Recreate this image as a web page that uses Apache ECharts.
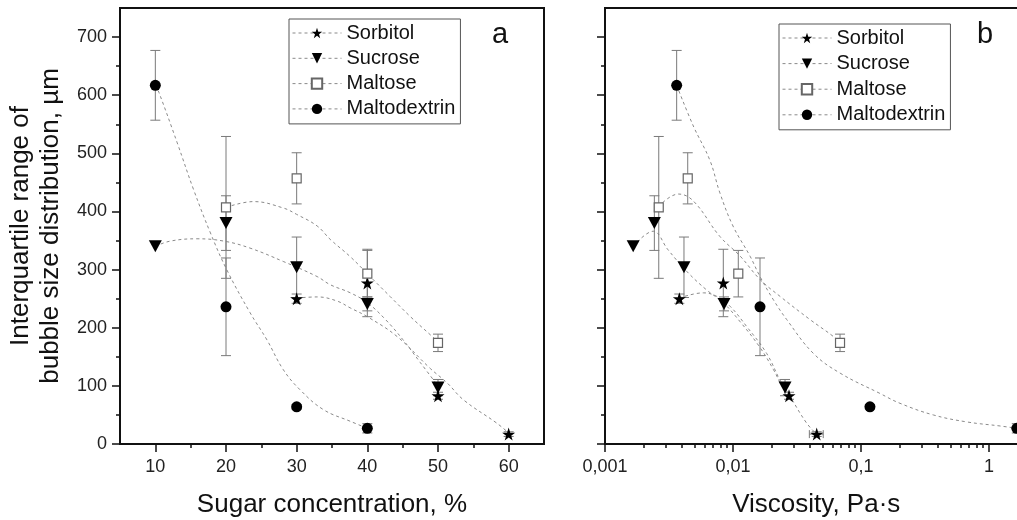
<!DOCTYPE html>
<html><head><meta charset="utf-8">
<script src="https://cdn.jsdelivr.net/npm/echarts@6/dist/echarts.min.js"></script>
<style>html,body{margin:0;padding:0;background:#fff}#c{width:1017px;height:520px}</style>
</head><body><div id="c"></div>
<script>
// ---------- data ----------
const seriesNames = ['Sorbitol', 'Sucrose', 'Maltose', 'Maltodextrin'];

const sorbitolConc = [30, 40, 50, 60];
const sorbitolVisc = [0.00381, 0.0084, 0.0274, 0.0451];
const sorbitolIQR = [250, 277, 83, 17];
const sorbitolErr = [8, 58, 6, 4];
const sorbitolViscErr = [0, 0, 0, 0.0056];

const sucroseConc = [10, 20, 30, 40, 50];
const sucroseVisc = [0.00166, 0.00243, 0.00414, 0.00851, 0.0255];
const sucroseIQR = [340, 380, 304, 241, 97];
const sucroseErr = [0, 47, 52, 12, 14];
const sucroseViscErr = [0, 0, 0, 0, 0];

const maltoseConc = [20, 30, 40, 50];
const maltoseVisc = [0.00263, 0.00443, 0.0110, 0.0686];
const maltoseIQR = [407, 457, 293, 174];
const maltoseErr = [122, 44, 40, 15];
const maltoseViscErr = [0.00013, 0.00022, 0.00055, 0.0034];

const maltodextrinConc = [10, 20, 30, 40];
const maltodextrinVisc = [0.00363, 0.01626, 0.1175, 1.65];
const maltodextrinIQR = [617, 236, 64, 27];
const maltodextrinErr = [60, 84, 4, 8];
const maltodextrinViscErr = [0, 0, 0, 0];

// fitted curves (panel a: concentration, panel b: viscosity)
const sorbitolFitA = [[30,251],[32.9,253],[35.7,246],[37.6,234],[40,219],[44.2,185],[48.9,130],[51.3,105],[53.6,76],[58.3,36],[60,19]];
const sucroseFitA = [[10,340],[12.1,349],[15.9,353],[19.7,349],[23.4,337],[28.1,314],[32.9,288],[34.75,274],[37.6,260],[40,243],[42.5,215],[45,180],[47.5,140],[50,100]];
const maltoseFitA = [[20,407],[23.9,417],[28.1,406],[30,395],[32.9,375],[34.75,352],[37.6,322],[40.4,288],[43.2,254],[46.1,219],[48.9,188],[50,176]];
const maltodextrinFitA = [[10,617],[10.5,605],[13.1,518],[15.4,438],[17.8,363],[20.1,300],[23.4,226],[25.8,179],[28.1,128],[30.5,93],[33.8,59],[37.6,39],[40,27]];

const sorbitolFitB = [[0.00381,251],[0.00586,260],[0.00746,254],[0.00948,237],[0.0128,202],[0.0183,156],[0.0233,110],[0.0279,82],[0.0376,36],[0.0451,17]];
const sucroseFitB = [[0.00166,340],[0.00238,366],[0.00311,334],[0.00435,297],[0.00622,265],[0.0084,243],[0.0114,210],[0.01626,166],[0.0207,128],[0.0247,96],[0.0255,95]];
const maltoseFitB = [[0.00261,408],[0.00374,430],[0.0049,418],[0.0079,357],[0.0114,323],[0.01626,283],[0.0233,254],[0.04,214],[0.0608,185],[0.0686,174]];
const maltodextrinFitB = [[0.00363,617],[0.0049,547],[0.0066,488],[0.0079,432],[0.01,375],[0.0136,323],[0.01626,288],[0.0207,248],[0.0263,214],[0.0424,156],[0.0686,122],[0.1406,87],[0.2018,70],[0.367,50],[0.67,38],[1.22,31],[1.65,27]];

// axis ticks
const yTicks = [0, 100, 200, 300, 400, 500, 600, 700];
const yMinorTicks = [50, 150, 250, 350, 450, 550, 650];
const concTicks = [10, 20, 30, 40, 50, 60];
const concMinorTicks = [15, 25, 35, 45, 55];
const viscTicks = [0.001, 0.01, 0.1, 1];
const viscMinorTicks = [0.002,0.003,0.004,0.005,0.006,0.007,0.008,0.009,
  0.02,0.03,0.04,0.05,0.06,0.07,0.08,0.09,
  0.2,0.3,0.4,0.5,0.6,0.7,0.8,0.9];

// ---------- styles ----------
const FONT = 'Liberation Sans, Arial, sans-serif';
const INK = '#111';
const FIT_COLOR = '#8a8a8a';
const ERR_COLOR = '#7a7a7a';
const STAR = 'path://M50,0 L61.8,35.1 L98.1,35.1 L68.7,56.8 L79.4,91 L50,70 L20.6,91 L31.3,56.8 L1.9,35.1 L38.2,35.1 Z';
const TRI_DOWN = 'path://M0,0 L100,0 L50,90 Z';

const markerStyles = {
  Sorbitol: { symbol: STAR, symbolSize: 13, itemStyle: { color: '#000', borderWidth: 0 } },
  Sucrose: { symbol: TRI_DOWN, symbolSize: [13, 12], itemStyle: { color: '#000', borderWidth: 0 } },
  Maltose: { symbol: 'rect', symbolSize: 9, itemStyle: { color: '#fff', borderColor: '#666', borderWidth: 1.2 } },
  Maltodextrin: { symbol: 'circle', symbolSize: 11, itemStyle: { color: '#000', borderWidth: 0 } }
};

function errRows(xs, ys, yerr, xerr) {
  return xs.map((x, i) => [x, ys[i], ys[i] - yerr[i], ys[i] + yerr[i],
    x - (xerr ? xerr[i] : 0), x + (xerr ? xerr[i] : 0)]);
}

function renderErr(params, api) {
  const x = api.value(0), y = api.value(1);
  const ylo = api.value(2), yhi = api.value(3), xlo = api.value(4), xhi = api.value(5);
  const st = { stroke: ERR_COLOR, lineWidth: 1, fill: null };
  const ch = [];
  const seg = (x1, y1, x2, y2) => ch.push({ type: 'line', shape: { x1, y1, x2, y2 }, style: st });
  if (yhi > ylo) {
    const a = api.coord([x, yhi]), b = api.coord([x, ylo]);
    seg(a[0], a[1], b[0], b[1]);
    seg(a[0] - 5, a[1], a[0] + 5, a[1]);
    seg(b[0] - 5, b[1], b[0] + 5, b[1]);
  }
  if (xhi > xlo) {
    const a = api.coord([xlo, y]), b = api.coord([xhi, y]);
    seg(a[0], a[1], b[0], b[1]);
    seg(a[0], a[1] - 4, a[0], a[1] + 4);
    seg(b[0], b[1] - 4, b[0], b[1] + 4);
  }
  return { type: 'group', children: ch };
}

function markerSeries(name, xs, ys, xi, yi) {
  const m = markerStyles[name];
  return {
    type: 'line', name, xAxisIndex: xi, yAxisIndex: yi,
    data: xs.map((x, i) => [x, ys[i]]),
    symbol: m.symbol, symbolSize: m.symbolSize, showSymbol: true,
    itemStyle: m.itemStyle,
    lineStyle: { width: 0, opacity: 0 },
    z: 5, silent: true, emphasis: { disabled: true }
  };
}
function fitSeries(data, xi, yi) {
  return {
    type: 'line', name: 'fit', xAxisIndex: xi, yAxisIndex: yi, data,
    smooth: 0.4, symbol: 'none', showSymbol: false,
    lineStyle: { color: FIT_COLOR, width: 1, type: [3, 3] },
    z: 1, silent: true, emphasis: { disabled: true }
  };
}
function errSeries(rows, xi, yi) {
  return {
    type: 'custom', name: 'err', xAxisIndex: xi, yAxisIndex: yi, data: rows,
    encode: { x: 0, y: 1 }, renderItem: renderErr, z: 2, silent: true
  };
}

const axisLineStyle = { color: INK, width: 2 };
const tickStyle = { color: INK, width: 1.5 };
const labelStyle = { fontSize: 18, color: '#222', fontFamily: FONT };

function mainX(grid, type, min, max, ticks, name, fmt) {
  return {
    gridIndex: grid, type, min, max, position: 'bottom',
    axisLine: { show: true, onZero: false, lineStyle: axisLineStyle },
    axisTick: { show: true, inside: false, length: 8, lineStyle: tickStyle, customValues: ticks },
    axisLabel: Object.assign({ customValues: ticks, margin: 14, formatter: fmt }, labelStyle),
    splitLine: { show: false }, minorTick: { show: false },
    name, nameLocation: 'middle', nameGap: 48,
    nameTextStyle: { fontSize: 26, color: INK, fontFamily: FONT }
  };
}
function minorX(grid, type, min, max, ticks) {
  return {
    gridIndex: grid, type, min, max, position: 'bottom',
    axisLine: { show: false },
    axisTick: { show: true, inside: false, length: 4, lineStyle: tickStyle, customValues: ticks },
    axisLabel: { show: false }, splitLine: { show: false }
  };
}
function mainY(grid, showLabels, name) {
  return {
    gridIndex: grid, type: 'value', min: 0, max: 750, position: 'left',
    axisLine: { show: true, onZero: false, lineStyle: axisLineStyle },
    axisTick: { show: true, inside: false, length: 8, lineStyle: tickStyle, customValues: yTicks },
    axisLabel: Object.assign({ show: showLabels, customValues: yTicks, margin: 13 }, labelStyle),
    splitLine: { show: false },
    name: name || '', nameLocation: 'middle', nameGap: 54,
    nameTextStyle: { fontSize: 26, lineHeight: 30, color: INK, fontFamily: FONT }
  };
}
function minorY(grid) {
  return {
    gridIndex: grid, type: 'value', min: 0, max: 750, position: 'left',
    axisLine: { show: false },
    axisTick: { show: true, inside: false, length: 4, lineStyle: tickStyle, customValues: yMinorTicks },
    axisLabel: { show: false }, splitLine: { show: false }
  };
}

const viscFmt = v => String(+Number(v).toPrecision(4)).replace('.', ',');

function legendFor(left, top, gap) {
  return {
    data: seriesNames.map(n => ({ name: n })),
    left, top, orient: 'vertical',
    itemWidth: 49, itemHeight: 13, itemGap: gap,
    padding: [4, 5, 5, 3],
    borderColor: '#555', borderWidth: 1, backgroundColor: '#fff',
    textStyle: { fontSize: 20, lineHeight: 20, color: INK, fontFamily: FONT },
    lineStyle: { color: FIT_COLOR, width: 1, type: [3, 3], opacity: 1 },
    selectedMode: false
  };
}

const series = [];
// panel a (axes 0)
series.push(fitSeries(sorbitolFitA, 0, 0), fitSeries(sucroseFitA, 0, 0),
  fitSeries(maltoseFitA, 0, 0), fitSeries(maltodextrinFitA, 0, 0));
// panel b (axes 2)
series.push(fitSeries(sorbitolFitB, 2, 2), fitSeries(sucroseFitB, 2, 2),
  fitSeries(maltoseFitB, 2, 2), fitSeries(maltodextrinFitB, 2, 2));

series.push(errSeries(errRows(sorbitolConc, sorbitolIQR, sorbitolErr), 0, 0));
series.push(errSeries(errRows(sucroseConc, sucroseIQR, sucroseErr), 0, 0));
series.push(errSeries(errRows(maltoseConc, maltoseIQR, maltoseErr), 0, 0));
series.push(errSeries(errRows(maltodextrinConc, maltodextrinIQR, maltodextrinErr), 0, 0));
series.push(errSeries(errRows(sorbitolVisc, sorbitolIQR, sorbitolErr, sorbitolViscErr), 2, 2));
series.push(errSeries(errRows(sucroseVisc, sucroseIQR, sucroseErr, sucroseViscErr), 2, 2));
series.push(errSeries(errRows(maltoseVisc, maltoseIQR, maltoseErr, maltoseViscErr), 2, 2));
series.push(errSeries(errRows(maltodextrinVisc, maltodextrinIQR, maltodextrinErr, maltodextrinViscErr), 2, 2));

series.push(markerSeries('Sorbitol', sorbitolConc, sorbitolIQR, 0, 0));
series.push(markerSeries('Sucrose', sucroseConc, sucroseIQR, 0, 0));
series.push(markerSeries('Maltose', maltoseConc, maltoseIQR, 0, 0));
series.push(markerSeries('Maltodextrin', maltodextrinConc, maltodextrinIQR, 0, 0));
series.push(markerSeries('Sorbitol', sorbitolVisc, sorbitolIQR, 2, 2));
series.push(markerSeries('Sucrose', sucroseVisc, sucroseIQR, 2, 2));
series.push(markerSeries('Maltose', maltoseVisc, maltoseIQR, 2, 2));
series.push(markerSeries('Maltodextrin', maltodextrinVisc, maltodextrinIQR, 2, 2));

const option = {
  animation: false,
  backgroundColor: '#fff',
  textStyle: { fontFamily: FONT },
  grid: [
    { left: 120, top: 8, width: 424, height: 436, show: true, borderColor: INK, borderWidth: 2, containLabel: false, outerBoundsMode: 'none' },
    { left: 605, top: 8, width: 422.5, height: 436, show: true, borderColor: INK, borderWidth: 2, containLabel: false, outerBoundsMode: 'none' }
  ],
  xAxis: [
    mainX(0, 'value', 5, 65, concTicks, 'Sugar concentration, %'),
    minorX(0, 'value', 5, 65, concMinorTicks),
    mainX(1, 'log', 0.001, 2, viscTicks, 'Viscosity, Pa·s', viscFmt),
    minorX(1, 'log', 0.001, 2, viscMinorTicks)
  ],
  yAxis: [
    mainY(0, true, 'Interquartile range of\nbubble size distribution, µm'),
    minorY(0),
    mainY(1, false),
    minorY(1)
  ],
  legend: [legendFor(289, 19, 5.3), legendFor(779, 24, 5.6)],
  graphic: [
    { type: 'text', x: 500, y: 35, z: 10, style: { text: 'a', fontSize: 29, fontFamily: FONT, fill: INK, align: 'center', verticalAlign: 'middle', textAlign: 'center', textVerticalAlign: 'middle' } },
    { type: 'text', x: 985, y: 35, z: 10, style: { text: 'b', fontSize: 29, fontFamily: FONT, fill: INK, align: 'center', verticalAlign: 'middle', textAlign: 'center', textVerticalAlign: 'middle' } }
  ],
  series
};

const chart = echarts.init(document.getElementById('c'), null, { renderer: 'canvas' });
chart.setOption(option);
</script>
</body></html>
